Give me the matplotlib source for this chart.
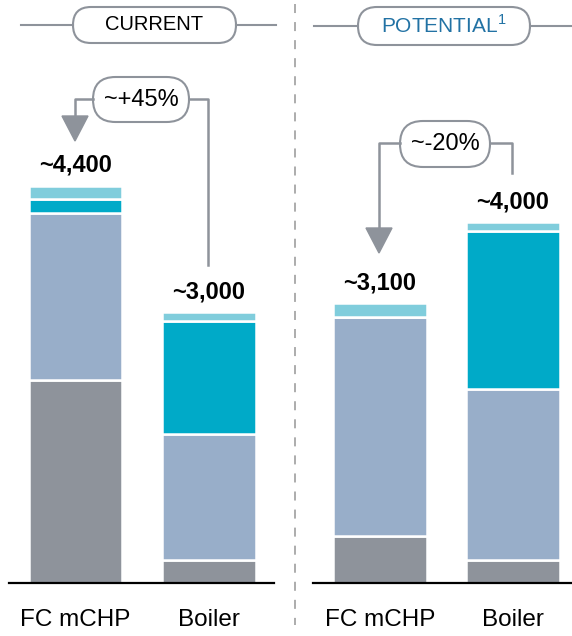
import matplotlib
matplotlib.use("Agg")
import matplotlib.pyplot as plt
from matplotlib.patches import FancyBboxPatch, Polygon

plt.rcParams['font.family'] = ['Liberation Sans', 'DejaVu Sans']
plt.rcParams['mathtext.fontset'] = 'custom'
plt.rcParams['mathtext.rm'] = 'Liberation Sans'

# data
categories = ['FC mCHP', 'Boiler']
current_gray = [2250, 250]
current_blue = [1850, 1400]
current_teal = [150, 1250]
current_cyan = [150, 100]
current_labels = ['~4,400', '~3,000']

potential_gray = [520, 250]
potential_blue = [2430, 1900]
potential_teal = [0, 1750]
potential_cyan = [150, 100]
potential_labels = ['~3,100', '~4,000']

colors = ['#8e939b', '#98aec9', '#00aac8', '#80cddc']
GRAY = '#8e939b'

W, H = 572, 636
fig = plt.figure(figsize=(W / 100, H / 100), dpi=100)

ymax = 583 * 11.08


def panel(left, right, xlim, series, labels):
    ax = fig.add_axes([left / W, 1 - 583 / H, (right - left) / W, 583 / H])
    bottom = [0, 0]
    for vals, c in zip(series, colors):
        ax.bar(range(2), vals, bottom=bottom, width=0.70, color=c,
               edgecolor='white', linewidth=1.8)
        bottom = [b + v for b, v in zip(bottom, vals)]
    for i, (tot, lab) in enumerate(zip(bottom, labels)):
        ax.annotate(lab, (i, tot), xytext=(0, 10), textcoords='offset points',
                    ha='center', va='baseline', fontsize=17, fontweight='bold')
    ax.set_xlim(*xlim)
    ax.set_ylim(0, ymax)
    for s in ['top', 'left', 'right']:
        ax.spines[s].set_visible(False)
    ax.spines['bottom'].set_linewidth(1.6)
    ax.set_yticks([])
    ax.set_xticks(range(2))
    ax.set_xticklabels(categories, fontsize=17.5)
    ax.tick_params(axis='x', length=0, pad=19)
    return ax


panel(9, 274, (-0.498, 1.487),
      [current_gray, current_blue, current_teal, current_cyan], current_labels)
panel(313, 572, (-0.504, 1.444),
      [potential_gray, potential_blue, potential_teal, potential_cyan], potential_labels)

# overlay in pixel coordinates for headers and connectors
ov = fig.add_axes([0, 0, 1, 1], facecolor='none')
ov.set_xlim(0, W)
ov.set_ylim(H, 0)
ov.axis('off')


def pill(x0, x1, y0, y1, text, color='black', size=16):
    h = y1 - y0
    ov.add_patch(FancyBboxPatch((x0, y0), x1 - x0, h,
                                boxstyle=f"round,pad=0,rounding_size={h / 2}",
                                facecolor='white', edgecolor=GRAY, linewidth=1.5))
    ov.text((x0 + x1) / 2, (y0 + y1) / 2, text, ha='center', va='center',
            fontsize=size, color=color)


# divider
ov.plot([295, 295], [4, 625], color='#a6a6a6', linewidth=1.3, dashes=(5, 5))

# headers
ov.plot([21, 73], [25, 25], color=GRAY, lw=1.5)
ov.plot([236, 276], [25, 25], color=GRAY, lw=1.5)
pill(73, 236, 7, 43, 'CURRENT', size=14.5)
ov.plot([314, 358], [26, 26], color=GRAY, lw=1.5)
ov.plot([530, 572], [26, 26], color=GRAY, lw=1.5)
pill(358, 530, 7, 45, r'POTENTIAL$^{1}$', color='#2272a4', size=15)

# current comparison connector
ov.plot([93, 75, 75], [99, 99, 117], color=GRAY, lw=1.8)
ov.plot([189, 208, 208], [99, 99, 265], color=GRAY, lw=1.8)
ov.add_patch(Polygon([[62, 116], [88, 116], [75, 141]], closed=True, color=GRAY))
pill(93, 189, 77, 122, '~+45%', size=17)

# potential comparison connector
ov.plot([400, 379, 379], [143, 143, 229], color=GRAY, lw=1.8)
ov.plot([490, 512, 512], [143, 143, 173], color=GRAY, lw=1.8)
ov.add_patch(Polygon([[366, 228], [392, 228], [379, 253]], closed=True, color=GRAY))
pill(400, 490, 121, 167, '~-20%', size=17)

fig.savefig('out.png', dpi=100)
